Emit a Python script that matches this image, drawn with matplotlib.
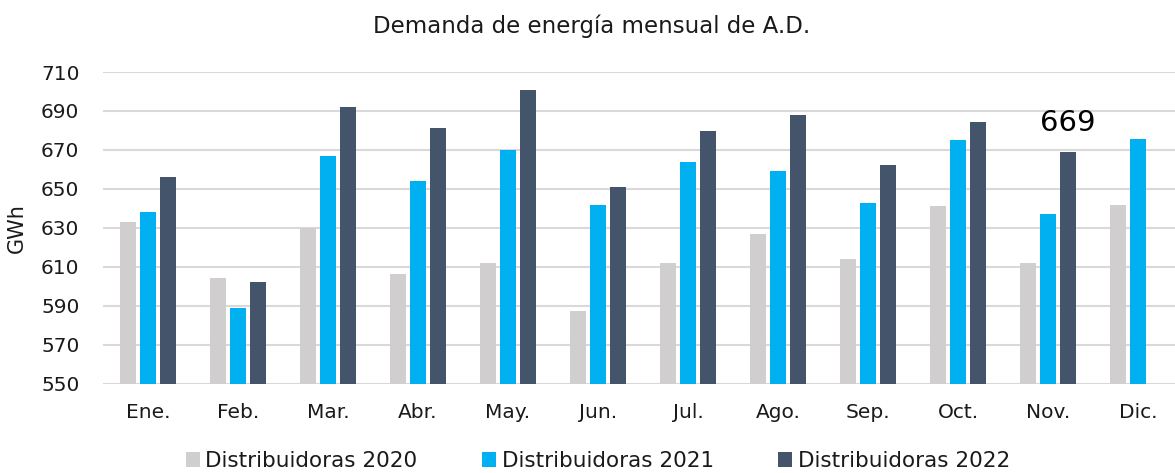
import matplotlib
matplotlib.use("Agg")
import matplotlib.pyplot as plt
import numpy as np

plt.rcParams.update({"font.family": "DejaVu Sans"})

MONTHS = ["Ene.", "Feb.", "Mar.", "Abr.", "May.", "Jun.",
          "Jul.", "Ago.", "Sep.", "Oct.", "Nov.", "Dic."]
D2020 = [633, 604, 630, 606, 612, 587, 612, 627, 614, 641, 612, 641.5]
D2021 = [638, 589, 667, 654, 670, 641.5, 664, 659, 642.5, 675, 637, 675.5]
D2022 = [656, 602, 692, 681, 700.5, 651, 679.5, 688, 662, 684.5, 669]
SERIES = [("Distribuidoras 2020", D2020, "#D0CECE"),
          ("Distribuidoras 2021", D2021, "#00B0F0"),
          ("Distribuidoras 2022", D2022, "#44546A")]

W, H = 1175, 473
fig = plt.figure(figsize=(W / 100, H / 100), dpi=100)
ax = fig.add_axes([103 / W, (H - 383.5) / H, 1080 / W, 311.5 / H])

x = np.arange(len(MONTHS))
step, bw = 0.222, 0.17
bars = []
for i, (name, vals, col) in enumerate(SERIES):
    b = ax.bar(x[:len(vals)] + (i - 1) * step, vals, bw, color=col,
               label=name, zorder=3)
    bars.append(b)

# etiqueta de noviembre 2022
nov = bars[2][10]
ax.annotate(f"{D2022[10]:.0f}", xy=(nov.get_x() + nov.get_width() / 2,
                                     nov.get_height()),
            xytext=(0, 15), textcoords="offset points", ha="center",
            va="baseline", fontsize=21, color="black")

ax.set_xlim(-0.5, 11.5)
ax.set_ylim(550, 710)
ax.set_yticks(np.arange(550, 711, 20))
ax.set_xticks(x)
ax.set_xticklabels(MONTHS)
ax.tick_params(length=0, labelsize=14.5, colors="#1a1a1a")
ax.tick_params(axis="x", pad=14)
ax.tick_params(axis="y", pad=17)
ax.grid(axis="y", color="#D9D9D9", lw=1.5, zorder=0)
for s in ax.spines.values():
    s.set_visible(False)
ax.set_ylabel("GWh", fontsize=15, color="#1a1a1a", labelpad=10)

fig.text(592 / W, 1 - 26 / H, "Demanda de energía mensual de A.D.",
         ha="center", va="center", fontsize=16.5, color="#1a1a1a")

fig.legend(loc="center", bbox_to_anchor=(598 / W, 1 - 461 / H), ncol=3,
           frameon=False, fontsize=15.5, handlelength=0.65, handleheight=0.65,
           handletextpad=0.25, columnspacing=3.0,
           labelcolor="#1a1a1a")

fig.savefig("out.png", dpi=100)
